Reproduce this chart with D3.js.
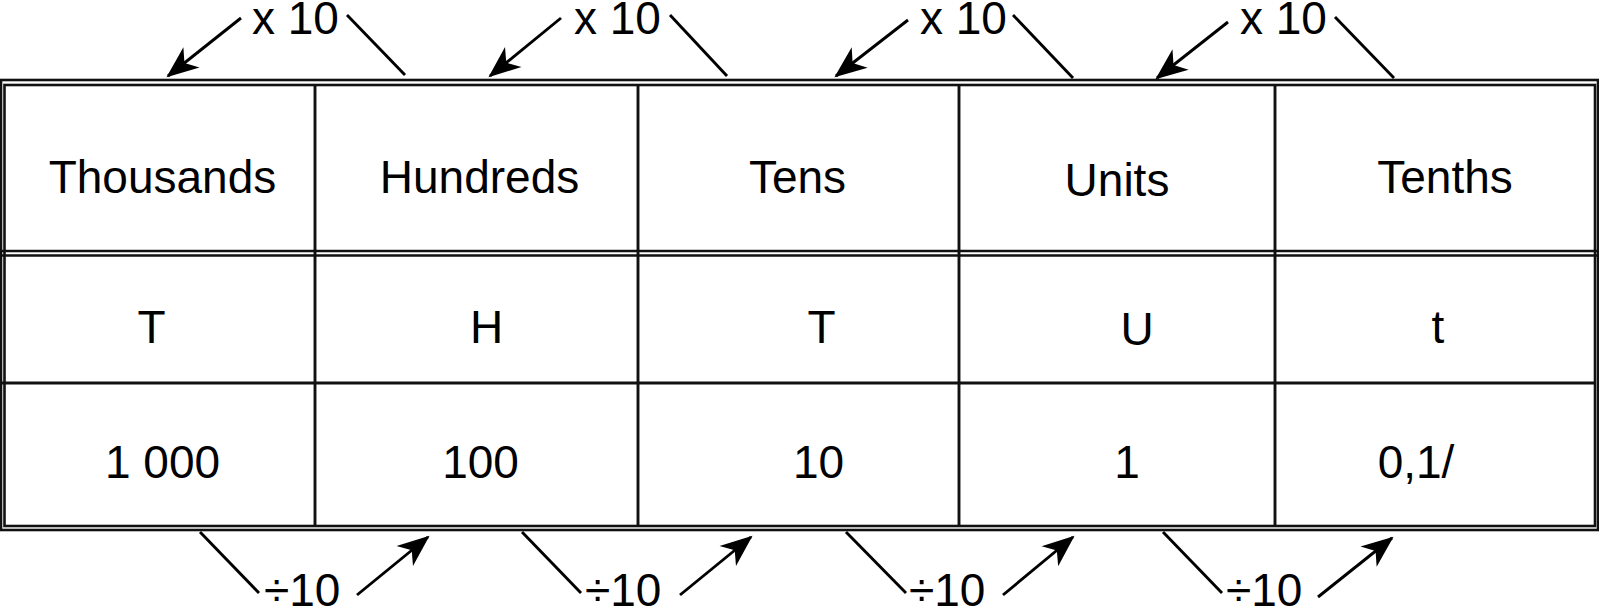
<!DOCTYPE html>
<html>
<head>
<meta charset="utf-8">
<script src="https://cdn.jsdelivr.net/npm/d3@7"></script>
<style>
  html, body { margin: 0; padding: 0; background: #fff; overflow: hidden; }
  svg { display: block; }
  text { font-family: "Liberation Sans", Arial, sans-serif; fill: #000; }
</style>
</head>
<body>
<svg id="chart" width="1599" height="613"></svg>
<script>
// ---- data ----
const categories = ["Thousands", "Hundreds", "Tens", "Units", "Tenths"];
const symbols = ["T", "H", "T", "U", "t"];
const values = ["1 000", "100", "10", "1", "0,1/"];
const multiplyLabel = "x 10";
const divideLabel = "\u00f710";

// ---- layout (positions only) ----
const colEdges = [4, 315, 638, 959, 1275, 1595];
const rowBaselines = [193, 343, 478];
const nudgeHeader = [3, 3, -1, 0, 10];
const nudgeSymbol = [-8, 10, 23, 20, 3];
const nudgeValue = [3, 4, 20, 10, -19];
const nudgeHeaderY = [0, 0, 0, 3, 0];
const nudgeSymbolY = [0, 0, 0, 2, 0];

const svg = d3.select("#chart");

const centers = colEdges.slice(0, -1).map((e, i) => (e + colEdges[i + 1]) / 2);
const x = d3.scaleOrdinal().domain(d3.range(categories.length)).range(centers);

const defs = svg.append("defs");
defs.append("marker")
  .attr("id", "ah")
  .attr("markerUnits", "userSpaceOnUse")
  .attr("viewBox", "-34 -16 38 32")
  .attr("refX", 0).attr("refY", 0)
  .attr("markerWidth", 38).attr("markerHeight", 32)
  .attr("orient", "auto")
  .append("path")
  .attr("d", "M2,0 L-30,-13 L-21,0 L-30,13 Z")
  .attr("fill", "#000");

const stroke = "#111";
const sw = 2.9;
const g = svg.append("g");

g.append("rect").attr("x", 1).attr("y", 80).attr("width", 1597).attr("height", 450)
  .attr("fill", "none").attr("stroke", stroke).attr("stroke-width", 2.6);
g.append("rect").attr("x", 4.5).attr("y", 85).attr("width", 1590.5).attr("height", 441)
  .attr("fill", "none").attr("stroke", stroke).attr("stroke-width", 2.6);

[251, 255.5].forEach(y => {
  g.append("line").attr("x1", 1).attr("x2", 1598).attr("y1", y).attr("y2", y)
    .attr("stroke", stroke).attr("stroke-width", 2.6);
});
g.append("line").attr("x1", 1).attr("x2", 1595).attr("y1", 383).attr("y2", 383)
  .attr("stroke", stroke).attr("stroke-width", sw);

g.selectAll("line.col").data(colEdges.slice(1, -1)).join("line")
  .attr("class", "col")
  .attr("x1", d => d).attr("x2", d => d)
  .attr("y1", 85).attr("y2", 526)
  .attr("stroke", stroke).attr("stroke-width", sw);

const fs = 46;
g.selectAll("text.hdr").data(categories).join("text")
  .attr("class", "hdr")
  .attr("x", (d, i) => x(i) + nudgeHeader[i])
  .attr("y", (d, i) => rowBaselines[0] + nudgeHeaderY[i])
  .attr("text-anchor", "middle").attr("font-size", fs).text(d => d);

g.selectAll("text.sym").data(symbols).join("text")
  .attr("class", "sym")
  .attr("x", (d, i) => x(i) + nudgeSymbol[i])
  .attr("y", (d, i) => rowBaselines[1] + nudgeSymbolY[i])
  .attr("text-anchor", "middle").attr("font-size", fs).text(d => d);

g.selectAll("text.val").data(values).join("text")
  .attr("class", "val")
  .attr("x", (d, i) => x(i) + nudgeValue[i])
  .attr("y", rowBaselines[2])
  .attr("text-anchor", "middle").attr("font-size", fs).text(d => d);

const topGroups = [
  { tip: [168, 76], tail: [241, 18], tx: 252, line: [[347, 15], [405, 75]] },
  { tip: [490, 76], tail: [561, 18], tx: 574, line: [[670, 15], [727, 76]] },
  { tip: [836, 76], tail: [908, 20], tx: 920, line: [[1013, 15], [1073, 78]] },
  { tip: [1157, 78], tail: [1228, 22], tx: 1240, line: [[1335, 17], [1394, 78]] }
];
topGroups.forEach(d => {
  g.append("line").attr("x1", d.tail[0]).attr("y1", d.tail[1])
    .attr("x2", d.tip[0]).attr("y2", d.tip[1])
    .attr("stroke", "#000").attr("stroke-width", sw).attr("marker-end", "url(#ah)");
  g.append("text").attr("x", d.tx).attr("y", 34).attr("font-size", fs).text(multiplyLabel);
  g.append("line").attr("x1", d.line[0][0]).attr("y1", d.line[0][1])
    .attr("x2", d.line[1][0]).attr("y2", d.line[1][1])
    .attr("stroke", "#000").attr("stroke-width", sw);
});

const bottomGroups = [
  { line: [[200, 532], [259, 593]], tx: 264, tail: [357, 595], tip: [428, 537] },
  { line: [[522, 532], [581, 593]], tx: 585, tail: [680, 595], tip: [751, 537] },
  { line: [[846, 532], [906, 593]], tx: 909, tail: [1003, 595], tip: [1073, 537] },
  { line: [[1163, 532], [1222, 593]], tx: 1226, tail: [1318, 597], tip: [1392, 538] }
];
bottomGroups.forEach(d => {
  g.append("line").attr("x1", d.line[0][0]).attr("y1", d.line[0][1])
    .attr("x2", d.line[1][0]).attr("y2", d.line[1][1])
    .attr("stroke", "#000").attr("stroke-width", sw);
  g.append("text").attr("x", d.tx).attr("y", 606).attr("font-size", fs).text(divideLabel);
  g.append("line").attr("x1", d.tail[0]).attr("y1", d.tail[1])
    .attr("x2", d.tip[0]).attr("y2", d.tip[1])
    .attr("stroke", "#000").attr("stroke-width", sw).attr("marker-end", "url(#ah)");
});
</script>
</body>
</html>
